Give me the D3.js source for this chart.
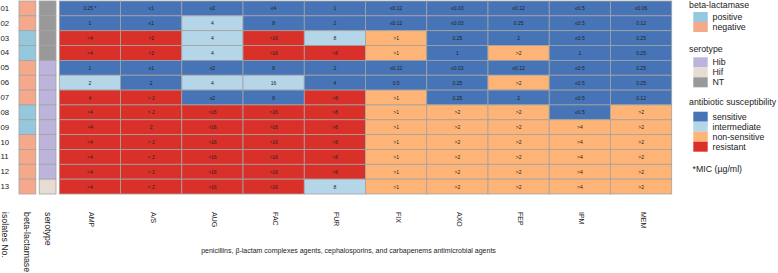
<!DOCTYPE html>
<html>
<head>
<meta charset="utf-8">
<script src="https://cdn.jsdelivr.net/npm/d3@7"></script>
<style>
  html, body { margin: 0; padding: 0; background: #fff; }
  svg { display: block; font-family: "Liberation Sans", Arial, sans-serif; }
</style>
</head>
<body>
<svg id="chart" width="778" height="273"></svg>
<script>
// ---------- data ----------
const isolates = ["01","02","03","04","05","06","07","08","09","10","11","12","13"];
const antibiotics = ["AMP","A/S","AUG","FAC","FUR","FIX","AXO","FEP","IPM","MEM"];
const betaLactamase = ["negative","negative","positive","positive","negative","negative","negative","positive","positive","negative","negative","negative","negative"];
const serotype = ["NT","NT","NT","NT","Hib","Hib","Hib","Hib","Hib","Hib","Hib","Hib","Hif"];
// MIC text per isolate (rows) x antibiotic (columns)
const micValues = [
  ["0.25 *","≤1","≤2","≤4","1","≤0.12","≤0.03","≤0.12","≤0.5","≤0.06"],
  ["1","≤1","4","8","2","≤0.12","≤0.03","0.25","≤0.5","0.12"],
  [">4",">2","4",">16","8",">1","0.25","2","≤0.5","0.25"],
  [">4",">2","4",">16",">8",">1","1",">2","1","0.25"],
  ["1","≤1","≤2","8","2","≤0.12","≤0.03","≤0.12","≤0.5","0.25"],
  ["2","2","4","16","4","0.5","0.25",">2","≤0.5","0.25"],
  ["4","> 2","≤2","8",">8",">1","0.25","2","≤0.5","0.12"],
  [">4","> 2",">16",">16",">8",">1",">2",">2","≤0.5",">2"],
  [">4","2",">16",">16",">8",">1",">2",">2",">4",">2"],
  [">4","> 2",">16",">16",">8",">1",">2",">2",">4",">2"],
  [">4","> 2",">16",">16",">8",">1",">2",">2",">4",">2"],
  [">4","> 2",">16",">16",">8",">1",">2",">2",">4",">2"],
  [">4","> 2",">16",">16","8",">1",">2",">2",">4",">2"]
];
// susceptibility category: S sensitive, I intermediate, N non-sensitive, R resistant
const susceptibility = [
  ["S","S","S","S","S","S","S","S","S","S"],
  ["S","S","I","S","S","S","S","S","S","S"],
  ["R","R","I","R","I","N","S","S","S","S"],
  ["R","R","I","R","R","N","S","N","S","S"],
  ["S","S","S","S","S","S","S","S","S","S"],
  ["I","S","I","I","S","S","S","N","S","S"],
  ["R","R","S","S","R","N","S","S","S","S"],
  ["R","R","R","R","R","N","N","N","S","N"],
  ["R","R","R","R","R","N","N","N","N","N"],
  ["R","R","R","R","R","N","N","N","N","N"],
  ["R","R","R","R","R","N","N","N","N","N"],
  ["R","R","R","R","R","N","N","N","N","N"],
  ["R","R","R","R","I","N","N","N","N","N"]
];
const betaLabels = ["positive","negative"];
const serotypeLabels = ["Hib","Hif","NT"];
const suscCodes = ["S","I","N","R"];
const suscLabels = ["sensitive","intermediate","non-sensitive","resistant"];
const xTitle = "penicillins, β-lactam complexes agents, cephalosporins, and carbapenems antimicrobial agents";

// ---------- scales ----------
const betaColor = d3.scaleOrdinal().domain(betaLabels).range(["#95c8dc","#f6a98a"]);
const seroColor = d3.scaleOrdinal().domain(serotypeLabels).range(["#bdb4dd","#e7dcd3","#999999"]);
const suscColor = d3.scaleOrdinal().domain(suscCodes).range(["#4674b6","#b5d5e8","#fdb476","#d9312a"]);

const svg = d3.select("#chart");
const x = d3.scaleBand().domain(antibiotics).range([59.3, 671.7]);
const y = d3.scaleBand().domain(isolates).range([1, 194]);
const gridStroke = "#a3a3a3";

// ---------- heatmap ----------
const cells = [];
isolates.forEach((iso, i) => antibiotics.forEach((ab, j) => {
  cells.push({iso, ab, v: micValues[i][j], c: susceptibility[i][j]});
}));
const g = svg.append("g");
g.selectAll("rect.cell").data(cells).join("rect")
  .attr("class","cell")
  .attr("x", d => x(d.ab)).attr("y", d => y(d.iso))
  .attr("width", x.bandwidth()).attr("height", y.bandwidth())
  .attr("fill", d => suscColor(d.c))
  .attr("stroke", gridStroke).attr("stroke-width", 0.8);
g.selectAll("text.cell").data(cells).join("text")
  .attr("class","cell")
  .attr("x", d => x(d.ab) + x.bandwidth()/2)
  .attr("y", d => y(d.iso) + y.bandwidth()/2)
  .attr("text-anchor","middle").attr("dominant-baseline","central")
  .attr("font-size", 5).attr("fill", "#222")
  .text(d => d.v);

// ---------- annotation columns ----------
const annCols = [
  {key:"beta", x0:19, w:16.8, color: i => betaColor(betaLactamase[i])},
  {key:"sero", x0:39.2, w:16.8, color: i => seroColor(serotype[i])}
];
annCols.forEach(col => {
  svg.append("g").selectAll("rect").data(isolates).join("rect")
    .attr("x", col.x0).attr("y", d => y(d))
    .attr("width", col.w).attr("height", y.bandwidth())
    .attr("fill", (d, i) => col.color(i))
    .attr("stroke", gridStroke).attr("stroke-width", 0.8);
});

// row labels
svg.append("g").selectAll("text").data(isolates).join("text")
  .attr("x", 0.5).attr("y", d => y(d) + y.bandwidth()/2)
  .attr("text-anchor","start").attr("dominant-baseline","central")
  .attr("font-size", 7.8).attr("fill","#222")
  .text(d => d);

// column labels (rotated)
const colLabelY = 212;
svg.append("g").selectAll("text").data(antibiotics).join("text")
  .attr("transform", d => `translate(${x(d) + x.bandwidth()/2 + 2},${colLabelY}) rotate(90)`)
  .attr("text-anchor","start").attr("dominant-baseline","central")
  .attr("font-size", 7).attr("fill","#222")
  .text(d => d);
const annLabels = [
  {t:"isolates No.", cx:5},
  {t:"beta-lactamase", cx:27.4},
  {t:"serotype", cx:47.6}
];
svg.append("g").selectAll("text").data(annLabels).join("text")
  .attr("transform", d => `translate(${d.cx},${colLabelY}) rotate(90)`)
  .attr("text-anchor","start").attr("dominant-baseline","central")
  .attr("font-size", 8.8).attr("fill","#222")
  .text(d => d.t);

svg.append("text")
  .attr("x", 348.5).attr("y", 250)
  .attr("text-anchor","middle").attr("dominant-baseline","central")
  .attr("font-size", 7).attr("fill","#222")
  .text(xTitle);

// ---------- legend ----------
const lg = svg.append("g");
const swX = 693.3, swW = 14.4, swH = 10, txtX = 712.5, titleX = 689;
function legendBlock(title, titleY, labels, colorFn, firstY) {
  lg.append("text").attr("x", titleX).attr("y", titleY)
    .attr("dominant-baseline","central").attr("font-size", 8.8).attr("fill","#222")
    .text(title);
  const items = lg.append("g");
  items.selectAll("rect").data(labels).join("rect")
    .attr("x", swX).attr("y", (d,i) => firstY + i*swH)
    .attr("width", swW).attr("height", swH)
    .attr("fill", (d,i) => colorFn(d, i));
  items.selectAll("text").data(labels).join("text")
    .attr("x", txtX).attr("y", (d,i) => firstY + i*swH + swH/2)
    .attr("dominant-baseline","central").attr("font-size", 8.8).attr("fill","#222")
    .text(d => d);
}
legendBlock("beta-lactamase", 5, betaLabels, d => betaColor(d), 12);
legendBlock("serotype", 48.5, serotypeLabels, d => seroColor(d), 57.3);
legendBlock("antibiotic susceptibility", 101.7, suscLabels, (d,i) => suscColor(suscCodes[i]), 111.7);
lg.append("text").attr("x", titleX + 3.5).attr("y", 169)
  .attr("dominant-baseline","central").attr("font-size", 8.8).attr("fill","#222")
  .text("*MIC (µg/ml)");
</script>
</body>
</html>
